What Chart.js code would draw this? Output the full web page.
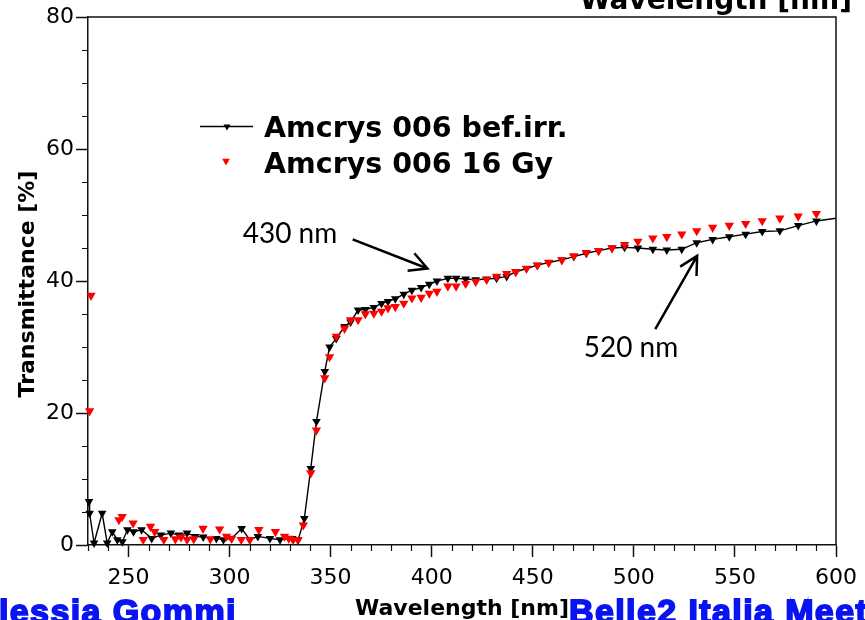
<!DOCTYPE html>
<html>
<head>
<meta charset="utf-8">
<title>Transmittance</title>
<script src="https://cdn.jsdelivr.net/npm/chart.js@4.4.1/dist/chart.umd.min.js"></script>
<style>
  html, body { margin: 0; padding: 0; background: #fff; }
  #wrap { width: 865px; height: 620px; overflow: hidden; }
</style>
</head>
<body>
<div id="wrap"><canvas id="spectrum" width="865" height="620"></canvas></div>
<script>
// sample before irradiation: wavelength [nm] and transmittance [%]
const befWavelength = [230.5, 230.8, 233, 237, 239.5, 242, 244.5, 247, 249.5, 252.5,
  256.5, 261.5, 266, 271, 275, 279, 283, 287, 293.5, 297,
  301, 306, 310, 314, 320, 325, 331, 334, 337, 340.2,
  343, 347.1, 349.5, 352.8, 356.9, 359.9, 363.6, 367.2, 371.4, 375.2,
  378.4, 382, 386.2, 390.2, 394.8, 398.8, 402.6, 408, 412.1, 416.8,
  421.8, 427.2, 432.1, 437.1, 441.6, 446.9, 452.3, 457.9, 464.4, 470.3,
  476.5, 482.6, 489.2, 495.4, 502, 509.4, 516.3, 523.7, 531.1, 539,
  547.2, 555.3, 563.5, 572.2, 581.3, 590.3, 600];
const befTransmittance = [6.6, 4.8, 0.3, 4.8, 0.3, 2.0, 0.8, 0.5, 2.3, 2.0,
  2.3, 1.0, 1.5, 1.8, 1.5, 1.8, 1.3, 1.2, 1.0, 0.8,
  1.0, 2.5, 0.8, 1.3, 1.0, 0.8, 1.0, 0.8, 4.0, 11.6,
  18.7, 26.3, 30.0, 31.3, 33.1, 33.8, 35.6, 35.7, 36.0, 36.6,
  36.9, 37.3, 38.0, 38.6, 39.0, 39.5, 40.0, 40.4, 40.4, 40.3,
  40.2, 40.3, 40.4, 40.7, 41.4, 41.9, 42.4, 42.8, 43.2, 43.7,
  44.2, 44.6, 45.0, 45.1, 45.0, 44.8, 44.7, 44.8, 45.8, 46.3,
  46.7, 47.1, 47.5, 47.6, 48.4, 49.1, 49.5];

// same sample after 16 Gy
const gyWavelength = [230.8, 231.5, 245.3, 246.9, 252.3, 257.3, 260.9, 263, 267.5, 273.2,
  276, 279, 282.3, 286.9, 290.5, 295.1, 298.5, 301, 305.8, 310,
  314.5, 322.7, 327.2, 329.3, 331.5, 333.7, 336.5, 340.2, 343, 347.1,
  349.5, 352.8, 356.9, 359.9, 363.6, 367.2, 371.4, 375.2, 378.4, 382,
  386.2, 390.2, 394.8, 398.8, 402.6, 408, 412.1, 416.8, 421.8, 427.2,
  432.1, 437.1, 441.6, 446.9, 452.3, 457.9, 464.4, 470.3, 476.5, 482.6,
  489.2, 495.4, 502, 509.4, 516.3, 523.7, 531.1, 539, 547.2, 555.3,
  563.5, 572.2, 581.3, 590.3];
const gyTransmittance = [20.3, 37.8, 3.8, 4.3, 3.3, 0.8, 2.8, 2.0, 0.8, 0.9,
  1.2, 0.8, 0.9, 2.5, 0.9, 2.4, 1.3, 1.0, 0.8, 0.8,
  2.3, 2.0, 1.3, 1.0, 0.8, 0.8, 3.0, 10.9, 17.4, 25.3,
  28.5, 31.6, 32.8, 34.1, 34.1, 35.0, 35.1, 35.4, 35.9, 36.1,
  36.6, 37.4, 37.5, 38.1, 38.4, 39.2, 39.2, 39.6, 39.9, 40.2,
  40.7, 41.1, 41.4, 41.9, 42.4, 42.8, 43.2, 43.8, 44.3, 44.6,
  45.0, 45.5, 46.0, 46.5, 46.7, 47.1, 47.6, 48.1, 48.4, 48.7,
  49.1, 49.5, 49.8, 50.2];

const xTickValues = [250, 300, 350, 400, 450, 500, 550, 600];
const yTickValues = [0, 20, 40, 60, 80];
const seriesNames = ['Amcrys 006 bef.irr.', 'Amcrys 006 16 Gy'];
const noteLabels = ['430 nm', '520 nm'];

const toPoints = (xs, ys) => xs.map((v, i) => ({ x: v, y: ys[i] }));

function triangleDown(ctx, cx, cy, r, color) {
  ctx.save();
  ctx.fillStyle = color;
  ctx.beginPath();
  for (let k = 0; k < 3; k++) {
    const ang = Math.PI + k * 2 * Math.PI / 3;
    const px = cx + Math.sin(ang) * r;
    const py = cy - Math.cos(ang) * r;
    if (k === 0) ctx.moveTo(px, py); else ctx.lineTo(px, py);
  }
  ctx.closePath();
  ctx.fill();
  ctx.restore();
}

function arrow(ctx, x0, y0, x1, y1) {
  const ang = Math.atan2(y1 - y0, x1 - x0);
  const len = 20, spread = 0.49;
  ctx.beginPath();
  ctx.moveTo(x0, y0); ctx.lineTo(x1, y1);
  ctx.moveTo(x1 - len * Math.cos(ang - spread), y1 - len * Math.sin(ang - spread));
  ctx.lineTo(x1, y1);
  ctx.lineTo(x1 - len * Math.cos(ang + spread), y1 - len * Math.sin(ang + spread));
  ctx.stroke();
}

// heavy caption text: fill plus a stroke of the same colour
function heavyText(ctx, text, x, y) {
  ctx.fillText(text, x, y);
  ctx.strokeText(text, x, y);
}

const decorations = {
  id: 'decorations',
  afterDraw(chart) {
    const { ctx, chartArea: a, scales } = chart;
    const x = scales.x, y = scales.y;
    ctx.save();

    // box: top and right edges
    ctx.strokeStyle = '#111';
    ctx.lineWidth = 1.5;
    ctx.beginPath();
    ctx.moveTo(a.left, a.top);
    ctx.lineTo(a.right, a.top);
    ctx.lineTo(a.right, a.bottom);
    ctx.stroke();

    // minor ticks
    ctx.lineWidth = 1.2;
    ctx.beginPath();
    for (let v = 230; v <= 600; v += 10) {
      if (v % 50 === 0) continue;
      const px = Math.round(x.getPixelForValue(v)) + 0.5;
      ctx.moveTo(px, a.bottom); ctx.lineTo(px, a.bottom + 6);
    }
    for (let v = 5; v < 80; v += 5) {
      if (v % 20 === 0) continue;
      const py = Math.round(y.getPixelForValue(v)) + 0.5;
      ctx.moveTo(a.left, py); ctx.lineTo(a.left - 6, py);
    }
    ctx.stroke();

    // axis titles
    ctx.fillStyle = '#000';
    ctx.strokeStyle = '#000';
    ctx.font = 'bold 22px "DejaVu Sans"';
    ctx.textAlign = 'center';
    ctx.textBaseline = 'alphabetic';
    ctx.fillText('Wavelength [nm]', (a.left + a.right) / 2, 615);
    ctx.save();
    ctx.translate(34, 284);
    ctx.rotate(-Math.PI / 2);
    ctx.fillText('Transmittance [%]', 0, 0);
    ctx.restore();

    // legend
    ctx.textAlign = 'left';
    ctx.font = 'bold 28.5px "DejaVu Sans"';
    ctx.lineWidth = 1.5;
    ctx.beginPath();
    ctx.moveTo(200, 126.5); ctx.lineTo(253, 126.5);
    ctx.stroke();
    triangleDown(ctx, 227, 126.5, 4, '#000');
    ctx.fillText(seriesNames[0], 264, 137);
    triangleDown(ctx, 226, 161, 4.4, '#ff0000');
    ctx.fillText(seriesNames[1], 264, 173);

    // wavelength notes with arrows
    ctx.font = '28px Lato';
    ctx.lineWidth = 2.5;
    ctx.fillText(noteLabels[0], x.getPixelForValue(306.5), y.getPixelForValue(45.8));
    arrow(ctx, x.getPixelForValue(360.9), y.getPixelForValue(46.3),
               x.getPixelForValue(397.9), y.getPixelForValue(41.9));
    ctx.fillText(noteLabels[1], x.getPixelForValue(475.2), y.getPixelForValue(28.5));
    arrow(ctx, x.getPixelForValue(510.6), y.getPixelForValue(32.7),
               x.getPixelForValue(531.3), y.getPixelForValue(43.8));

    // slide captions around the figure
    ctx.font = 'bold 28px "DejaVu Sans"';
    ctx.textAlign = 'right';
    ctx.fillText('Wavelength [nm]', 852, 9);
    ctx.fillStyle = '#0a14f0';
    ctx.strokeStyle = '#0a14f0';
    ctx.lineWidth = 1.8;
    ctx.font = 'bold 34px Arial, "Liberation Sans", sans-serif';
    ctx.letterSpacing = '1.4px';
    ctx.textAlign = 'left';
    heavyText(ctx, 'Alessia Gommi', -27, 623);
    heavyText(ctx, 'Belle2 Italia Meeting', 569, 623);
    ctx.restore();
  }
};

new Chart(document.getElementById('spectrum'), {
  type: 'scatter',
  data: {
    datasets: [
      {
        label: seriesNames[1],
        data: toPoints(gyWavelength, gyTransmittance),
        showLine: false,
        pointStyle: 'triangle',
        rotation: 180,
        pointRadius: 5.4,
        pointBorderWidth: 0,
        backgroundColor: '#ff0000',
        borderColor: '#ff0000',
        order: 0,
        clip: 8
      },
      {
        label: seriesNames[0],
        data: toPoints(befWavelength, befTransmittance),
        showLine: true,
        tension: 0,
        borderColor: '#000',
        borderWidth: 1.4,
        pointStyle: 'triangle',
        rotation: 180,
        pointRadius: ctx => ctx.dataIndex === befWavelength.length - 1 ? 0 : 5,
        pointBorderWidth: 0,
        backgroundColor: '#000',
        order: 1,
        clip: 8
      }
    ]
  },
  options: {
    responsive: false,
    animation: false,
    devicePixelRatio: 1,
    layout: { padding: { top: 17, right: 27, left: 0, bottom: 0 } },
    plugins: {
      legend: { display: false },
      tooltip: { enabled: false }
    },
    scales: {
      x: {
        type: 'linear',
        min: 230,
        max: 600,
        afterBuildTicks: s => { s.ticks = xTickValues.map(v => ({ value: v })); },
        afterFit: s => { s.height = 75; },
        ticks: {
          color: '#000',
          font: { family: 'DejaVu Sans', size: 22 },
          padding: 8,
          maxRotation: 0,
          autoSkip: false
        },
        grid: { drawOnChartArea: false, tickLength: 12, tickColor: '#111', tickWidth: 1.5 },
        border: { color: '#111', width: 1.5 }
      },
      y: {
        type: 'linear',
        min: 0,
        max: 80,
        afterBuildTicks: s => { s.ticks = yTickValues.map(v => ({ value: v })); },
        afterFit: s => { s.width = 88; },
        ticks: {
          color: '#000',
          font: { family: 'DejaVu Sans', size: 22 },
          padding: 2,
          autoSkip: false
        },
        grid: { drawOnChartArea: false, tickLength: 12, tickColor: '#111', tickWidth: 1.5 },
        border: { color: '#111', width: 1.5 }
      }
    }
  },
  plugins: [decorations]
});
</script>
</body>
</html>
